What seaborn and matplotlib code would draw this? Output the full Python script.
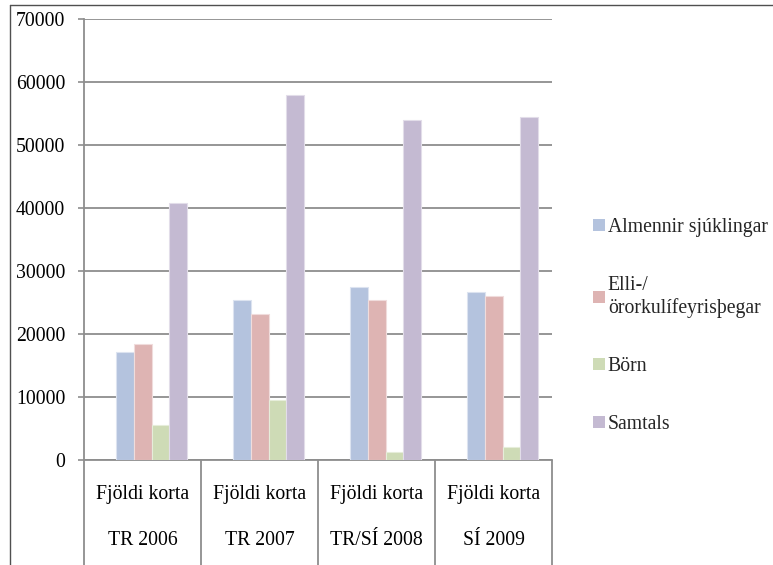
import matplotlib
matplotlib.use('Agg')
import matplotlib.pyplot as plt
import matplotlib.lines as mlines
import seaborn as sns
import pandas as pd

# data
periods = ["TR 2006", "TR 2007", "TR/SÍ 2008", "SÍ 2009"]
row_label = "Fjöldi korta"
series = ["Almennir sjúklingar", "Elli-/\nörorkulífeyrisþegar", "Börn", "Samtals"]
almennir = [17100, 25400, 27400, 26600]
elli = [18400, 23100, 25400, 26100]
born = [5500, 9500, 1300, 2000]
samtals = [40800, 57900, 53900, 54400]
yticks = [0, 10000, 20000, 30000, 40000, 50000, 60000, 70000]

colors = ["#B4C3DE", "#DEB4B3", "#CEDBB6", "#C4BAD2"]
edges = ["#DCE3F0", "#F0DCDC", "#E6EDDA", "#E2DDE9"]
grid_col = "#8E8E8E"

sns.set_theme(style="white")
plt.rcParams['font.family'] = ['Liberation Serif', 'DejaVu Serif']

df = pd.DataFrame({
    "period": periods * 4,
    "group": [s for s in series for _ in periods],
    "value": almennir + elli + born + samtals,
})

fig = plt.figure(figsize=(7.73, 5.65), dpi=100)
ax = fig.add_axes([84 / 773, 1 - 460 / 565, (552 - 84) / 773, (460 - 19) / 565])

sns.barplot(data=df, x="period", y="value", hue="group", order=periods,
            hue_order=series, palette=colors, width=0.61, gap=0,
            saturation=1, errorbar=None, ax=ax, legend=False, zorder=3)
for i, cont in enumerate(ax.containers):
    for p in cont:
        p.set_edgecolor(edges[i])
        p.set_linewidth(0.8)

# category slots sit slightly left of the bar groups, as in the source chart
shift = 0.077
ax.set_xlim(-0.5 - shift, len(periods) - 0.5 - shift)
ax.set_ylim(0, 70000)

ax.set_yticks(yticks)
ax.set_yticklabels([str(v) for v in yticks], fontsize=14.2, color="black")
ax.tick_params(axis='y', length=4.5, width=1.2, color=grid_col, pad=9, left=True)
ax.yaxis.grid(True, color=grid_col, linewidth=1.3, zorder=0)
ax.xaxis.grid(False)

centers = [i - shift for i in range(len(periods))]
ax.set_xticks(centers)
ax.set_xticklabels([f"{row_label}\n{p}" for p in periods], fontsize=14.2,
                   color="black", linespacing=2.95)
ax.tick_params(axis='x', which='major', length=0, pad=18)
bounds = [i - 0.5 - shift for i in range(len(periods) + 1)]
ax.set_xticks(bounds, minor=True)
ax.tick_params(axis='x', which='minor', length=80, width=1.3, color=grid_col,
               direction='out', bottom=True)

ax.set_xlabel("")
ax.set_ylabel("")
for side in ["top", "right"]:
    ax.spines[side].set_visible(False)
for side in ["left", "bottom"]:
    ax.spines[side].set_color(grid_col)
    ax.spines[side].set_linewidth(1.3)

handles = [plt.Rectangle((0, 0), 1, 1, facecolor=c, edgecolor="none") for c in colors]
fig.legend(handles, series, loc="upper left",
           bbox_to_anchor=(593 / 773, 1 - 218 / 565), frameon=False,
           fontsize=14.2, handlelength=0.6, handleheight=0.6, handletextpad=0.15,
           labelspacing=1.98, borderpad=0, borderaxespad=0)

# outer chart frame (only top and left edges are inside the crop)
fig.add_artist(mlines.Line2D([10 / 773, 10 / 773], [0, 1 - 5 / 565],
                             color="#505050", linewidth=1.0))
fig.add_artist(mlines.Line2D([10 / 773, 1], [1 - 5 / 565, 1 - 5 / 565],
                             color="#505050", linewidth=1.0))

fig.savefig("out.png", dpi=100)
